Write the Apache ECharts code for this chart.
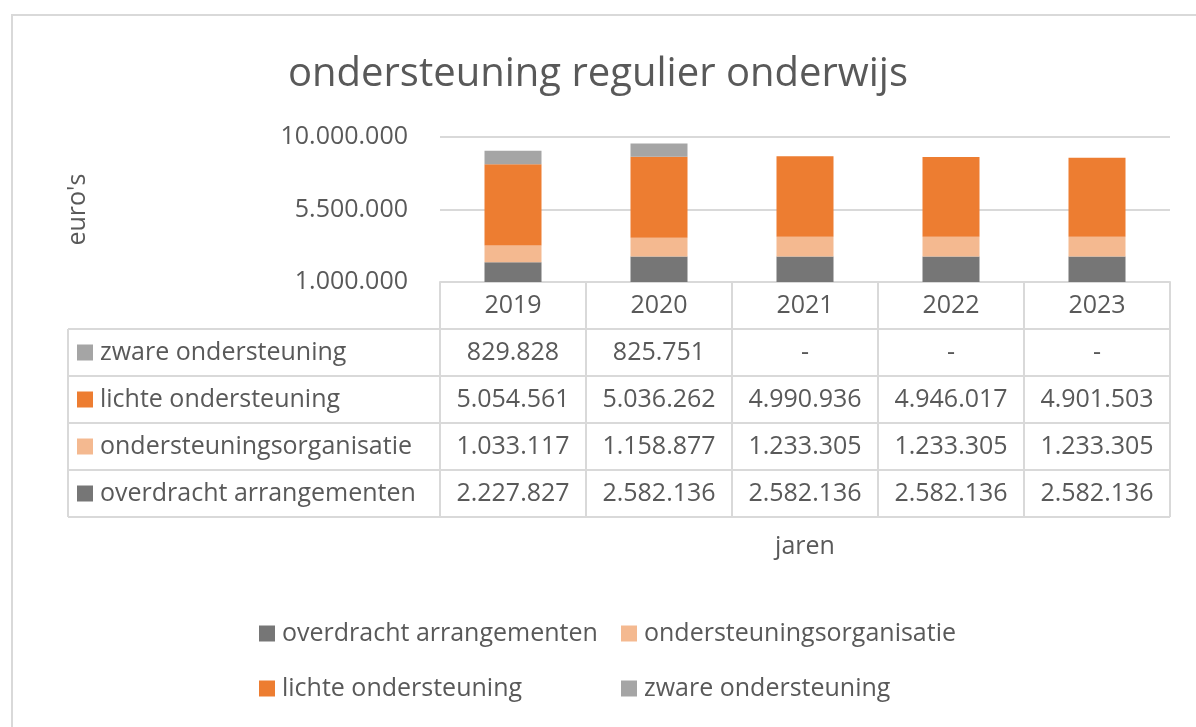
<!DOCTYPE html>
<html>
<head>
<meta charset="utf-8">
<script src="https://cdn.jsdelivr.net/npm/echarts@6/dist/echarts.min.js"></script>
<style>
  html, body { margin: 0; padding: 0; background: #fff; }
  #chart { width: 1196px; height: 727px; }
</style>
</head>
<body>
<div id="chart"></div>
<script>
// data
const years = ['2019', '2020', '2021', '2022', '2023'];
const overdracht = [2227827, 2582136, 2582136, 2582136, 2582136];
const organisatie = [1033117, 1158877, 1233305, 1233305, 1233305];
const lichte = [5054561, 5036262, 4990936, 4946017, 4901503];
const zware = [829828, 825751, 0, 0, 0];
const seriesNames = ['overdracht arrangementen', 'ondersteuningsorganisatie', 'lichte ondersteuning', 'zware ondersteuning'];
const colors = ['#767676', '#F4B990', '#ED7D31', '#A5A5A5'];

// layout
const font = 'Open Sans';
const textColor = '#595959';
const lineColor = '#d9d9d9';
const gridLeft = 440, gridRight = 1170, gridTop = 137, gridBottom = 282;
const rowH = 47;
const tableLeft = 68;
const fs = 25;

function fmt(v) {
    return v ? String(v).replace(/\B(?=(\d{3})+(?!\d))/g, '.') : '-';
}

const seriesData = [overdracht, organisatie, lichte, zware];
// table rows, top to bottom
const rowOrder = [3, 2, 1, 0];

let xAxes = [{
    type: 'category',
    data: years,
    position: 'bottom',
    offset: 0,
    axisLine: { onZero: false, lineStyle: { color: lineColor, width: 2 } },
    axisTick: { show: false },
    axisLabel: { interval: 0, margin: rowH / 2, verticalAlign: 'middle', fontSize: fs, color: textColor, fontFamily: font },
    name: 'jaren',
    nameLocation: 'middle',
    nameGap: 252,
    nameTextStyle: { fontSize: fs, color: textColor, fontFamily: font }
}];
rowOrder.forEach((si, k) => {
    xAxes.push({
        type: 'category',
        data: years,
        position: 'bottom',
        offset: rowH * (k + 1),
        axisLine: { show: false, onZero: false },
        axisTick: { show: false },
        axisLabel: {
            interval: 0, margin: rowH / 2, verticalAlign: 'middle',
            fontSize: fs, color: textColor, fontFamily: font,
            formatter: (v, idx) => fmt(seriesData[si][idx])
        }
    });
});

let graphics = [{
    type: 'rect',
    shape: { x: 12, y: 15, width: 1200, height: 720 },
    style: { fill: 'none', stroke: lineColor, lineWidth: 2 },
    silent: true
}];
// horizontal table lines
for (let k = 1; k <= 5; k++) {
    let y = gridBottom + rowH * k;
    graphics.push({
        type: 'line',
        shape: { x1: tableLeft, y1: y, x2: gridRight, y2: y },
        style: { stroke: lineColor, lineWidth: 2 }
    });
}
// vertical table lines
graphics.push({
    type: 'line',
    shape: { x1: tableLeft, y1: gridBottom + rowH, x2: tableLeft, y2: gridBottom + rowH * 5 },
    style: { stroke: lineColor, lineWidth: 2 }
});
const colW = (gridRight - gridLeft) / years.length;
for (let i = 0; i <= years.length; i++) {
    let x = gridLeft + colW * i;
    graphics.push({
        type: 'line',
        shape: { x1: x, y1: gridBottom, x2: x, y2: gridBottom + rowH * 5 },
        style: { stroke: lineColor, lineWidth: 2 }
    });
}
// row headers
rowOrder.forEach((si, k) => {
    let top = gridBottom + rowH * (k + 1);
    graphics.push({
        type: 'rect',
        shape: { x: 77, y: top + (rowH - 16) / 2, width: 16, height: 16 },
        style: { fill: colors[si] }
    });
    graphics.push({
        type: 'text',
        x: 100, y: top + rowH / 2,
        style: { text: seriesNames[si], fontSize: fs, fill: textColor, fontFamily: font, verticalAlign: 'middle' }
    });
});

// one legend per item so the two columns line up
const legendPos = [[259, 621], [621, 621], [259, 676], [621, 676]];
const legends = seriesNames.map((n, i) => ({
    left: legendPos[i][0],
    top: legendPos[i][1],
    data: [n],
    itemWidth: 16,
    itemHeight: 16,
    icon: 'rect',
    padding: 0,
    textStyle: { fontSize: fs, color: textColor, fontFamily: font, padding: [0, 0, 0, 2] }
}));

let chart = echarts.init(document.getElementById('chart'));
chart.setOption({
    animation: false,
    textStyle: { fontFamily: font },
    title: {
        text: 'ondersteuning regulier onderwijs',
        left: 'center',
        top: 50,
        textStyle: { fontSize: 40, fontWeight: 'normal', color: textColor, fontFamily: font }
    },
    grid: { left: gridLeft, right: 1196 - gridRight, top: gridTop, bottom: 727 - gridBottom, containLabel: false },
    legend: legends,
    xAxis: xAxes,
    yAxis: {
        type: 'value',
        min: 1000000,
        max: 10000000,
        interval: 4500000,
        axisLine: { show: false },
        axisTick: { show: false },
        splitLine: { lineStyle: { color: lineColor, width: 2 } },
        axisLabel: { fontSize: fs, color: textColor, fontFamily: font, margin: 32, formatter: v => fmt(v) },
        name: "euro's",
        nameLocation: 'middle',
        nameRotate: 90,
        nameGap: 350,
        nameTextStyle: { fontSize: fs, color: textColor, fontFamily: font }
    },
    series: seriesNames.map((n, i) => ({
        name: n,
        type: 'bar',
        stack: 'totaal',
        barWidth: 57,
        data: seriesData[i],
        itemStyle: { color: colors[i] }
    })),
    graphic: graphics
});
</script>
</body>
</html>
